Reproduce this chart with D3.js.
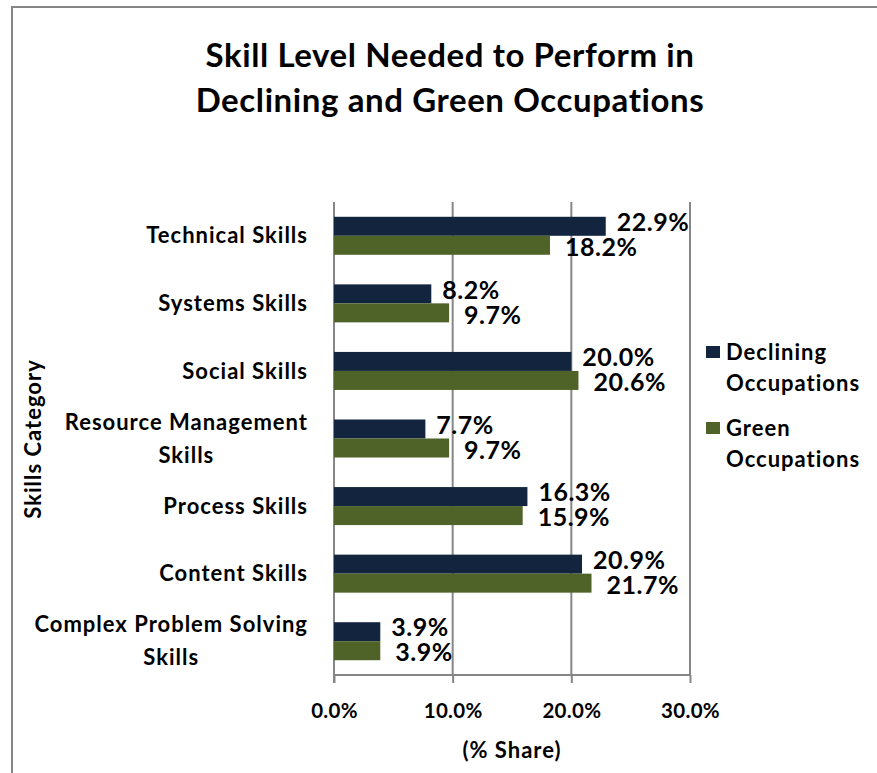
<!DOCTYPE html>
<html>
<head>
<meta charset="utf-8">
<script src="https://cdn.jsdelivr.net/npm/d3@7"></script>
<style>
  body { margin: 0; background: #fff; }
  text { font-family: Lato, "Open Sans", sans-serif; font-weight: bold; fill: #000; }
</style>
</head>
<body>
<div id="chart"></div>
<script>
// chart data
const categories = [
  ["Technical Skills"],
  ["Systems Skills"],
  ["Social Skills"],
  ["Resource Management", "Skills"],
  ["Process Skills"],
  ["Content Skills"],
  ["Complex Problem Solving", "Skills"]
];
const declining = [22.9, 8.2, 20.0, 7.7, 16.3, 20.9, 3.9];
const green = [18.2, 9.7, 20.6, 9.7, 15.9, 21.7, 3.9];
const xTicks = [0, 10, 20, 30];
const seriesNames = [["Declining", "Occupations"], ["Green", "Occupations"]];
const seriesColors = ["#13243f", "#4f6228"];

const width = 877, height = 773;
const margin = { top: 202, left: 334, right: 187, bottom: 98 };

const svg = d3.select("#chart").append("svg")
  .attr("width", width)
  .attr("height", height);

// chart border (only top and left visible in the crop)
svg.append("path")
  .attr("d", "M12,780 L12,7 L890,7")
  .attr("fill", "none")
  .attr("stroke", "#868686")
  .attr("stroke-width", 2);

// title
const title = svg.append("text")
  .attr("text-anchor", "middle")
  .style("font-size", "33px")
  .style("letter-spacing", "0.6px");
title.append("tspan").attr("x", 450).attr("y", 67).text("Skill Level Needed to Perform in");
title.append("tspan").attr("x", 450).attr("y", 112).text("Declining and Green Occupations");

const x = d3.scaleLinear()
  .domain([0, 30])
  .range([margin.left, width - margin.right]);

const y = d3.scaleBand()
  .domain(d3.range(categories.length))
  .range([margin.top, height - margin.bottom]);

const barH = 19;

// gridlines
svg.append("g")
  .selectAll("line")
  .data(xTicks.slice(1))
  .enter().append("line")
  .attr("x1", d => x(d)).attr("x2", d => x(d))
  .attr("y1", margin.top).attr("y2", height - margin.bottom)
  .attr("stroke", "#868686")
  .attr("stroke-width", 2);

// x axis
const xAxis = svg.append("g")
  .attr("transform", "translate(0," + (height - margin.bottom) + ")")
  .call(d3.axisBottom(x).tickValues(xTicks).tickSize(8).tickFormat(d => d.toFixed(1) + "%"));
xAxis.select(".domain").attr("stroke", "#868686").attr("stroke-width", 2).attr("d", "M" + x(0) + ",0H" + x(30));
xAxis.selectAll(".tick line").attr("stroke", "#868686").attr("stroke-width", 2);
xAxis.selectAll(".tick text")
  .attr("y", 43)
  .attr("dy", 0)
  .style("font-size", "20.5px")
  .style("letter-spacing", "0.3px")
  .style("font-family", "Lato, 'Open Sans', sans-serif")
  .style("font-weight", "bold")
  .attr("fill", "#000");

// y axis line
svg.append("line")
  .attr("x1", x(0)).attr("x2", x(0))
  .attr("y1", margin.top).attr("y2", height - margin.bottom + 8)
  .attr("stroke", "#868686")
  .attr("stroke-width", 2);

// bars
const groups = svg.append("g")
  .selectAll("g")
  .data(categories)
  .enter().append("g")
  .attr("transform", (d, i) => "translate(0," + (y(i) + y.bandwidth() / 2) + ")");

groups.append("rect")
  .attr("x", x(0))
  .attr("y", -barH)
  .attr("width", (d, i) => x(declining[i]) - x(0))
  .attr("height", barH)
  .attr("fill", seriesColors[0]);

groups.append("rect")
  .attr("x", x(0))
  .attr("y", 0)
  .attr("width", (d, i) => x(green[i]) - x(0))
  .attr("height", barH)
  .attr("fill", seriesColors[1]);

// value labels
groups.append("text")
  .attr("x", (d, i) => x(declining[i]) + 11)
  .attr("y", -barH / 2 - 4)
  .attr("dy", "0.35em")
  .style("font-size", "25px")
  .style("letter-spacing", "0.5px")
  .text((d, i) => declining[i].toFixed(1) + "%");

groups.append("text")
  .attr("x", (d, i) => x(green[i]) + 15)
  .attr("y", barH / 2 + 2)
  .attr("dy", "0.35em")
  .style("font-size", "25px")
  .style("letter-spacing", "0.5px")
  .text((d, i) => green[i].toFixed(1) + "%");

// category labels, centred block right-aligned to 308
groups.each(function(lines) {
  const t = d3.select(this).append("text")
    .attr("text-anchor", "middle")
    .style("font-size", "22px")
    .style("letter-spacing", "1px");
  lines.forEach((ln, k) => {
    t.append("tspan").text(ln)
      .attr("y", (k - (lines.length - 1) / 2) * 33)
      .attr("dy", "0.35em");
  });
  let w = 0;
  t.selectAll("tspan").each(function() { w = Math.max(w, this.getComputedTextLength()); });
  t.selectAll("tspan").attr("x", 308 - w / 2);
});

// axis titles
svg.append("text")
  .attr("text-anchor", "middle")
  .attr("x", x(15))
  .attr("y", 750)
  .attr("dy", "0.35em")
  .style("font-size", "22px")
  .style("letter-spacing", "1px")
  .text("(% Share)");

svg.append("text")
  .attr("text-anchor", "middle")
  .attr("transform", "translate(33,439) rotate(-90)")
  .attr("dy", "0.35em")
  .style("font-size", "22px")
  .style("letter-spacing", "1px")
  .text("Skills Category");

// legend
const legend = svg.append("g")
  .selectAll("g")
  .data(seriesNames)
  .enter().append("g")
  .attr("transform", (d, i) => "translate(706," + (352 + i * 76) + ")");

legend.append("rect")
  .attr("x", 0).attr("y", -6)
  .attr("width", 14).attr("height", 12)
  .attr("fill", (d, i) => seriesColors[i]);

legend.each(function(lines) {
  const t = d3.select(this).append("text")
    .style("font-size", "22px")
    .style("letter-spacing", "1px");
  lines.forEach((ln, k) => {
    t.append("tspan").attr("x", 20).attr("y", k * 31).attr("dy", "0.35em").text(ln);
  });
});
</script>
</body>
</html>
